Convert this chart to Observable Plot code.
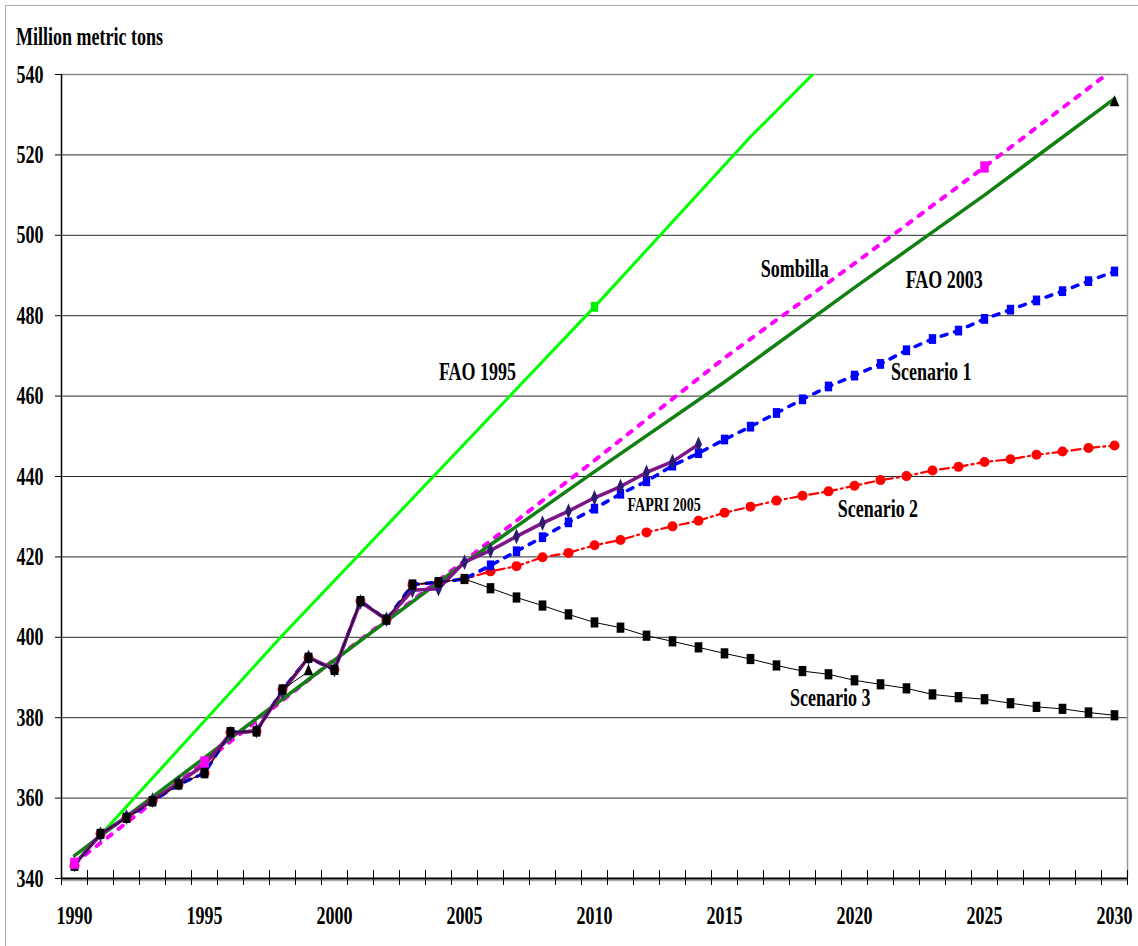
<!DOCTYPE html>
<html><head><meta charset="utf-8">
<script src="https://cdn.jsdelivr.net/npm/d3@7"></script>
<script src="https://cdn.jsdelivr.net/npm/@observablehq/plot@0.6"></script>
<style>
html,body{margin:0;padding:0;background:#fff;}
#wrap{position:relative;width:1138px;height:946px;overflow:hidden;font-family:'Liberation Serif','Times New Roman',serif;}
#frame{position:absolute;left:5px;top:5px;right:-10px;bottom:-10px;border-left:1px solid #aaa;border-top:1px solid #aaa;pointer-events:none;}
#title{position:absolute;left:16px;top:24px;font-size:18px;line-height:18px;font-weight:bold;transform:scaleY(1.4);transform-origin:0 0;white-space:nowrap;color:#000;}
#chart{position:absolute;left:0;top:56px;}
#chart svg text{font-weight:bold;}
</style></head>
<body>
<div id="wrap"><div id="title">Million metric tons</div><div id="chart"></div><div id="frame"></div></div>
<script>
// ---------------- data ----------------
const histYears  = [1990,1991,1992,1993,1994,1995,1996,1997,1998,1999,2000,2001,2002,2003,2004,2005];
const histValues = [343.2,351.1,355.1,359.2,363.4,366.2,376.4,376.6,387.0,394.9,391.9,409.0,404.4,413.1,413.7,414.5];

const projYears = [2006,2007,2008,2009,2010,2011,2012,2013,2014,2015,2016,2017,2018,2019,2020,2021,2022,2023,2024,2025,2026,2027,2028,2029,2030];
const scenario1 = [417.9,421.4,424.9,428.6,432.0,435.7,438.8,442.7,445.8,449.2,452.4,455.8,459.2,462.4,465.1,468.0,471.4,474.2,476.3,479.2,481.5,483.8,486.1,488.6,491.0];
const scenario2 = [416.4,417.7,419.9,421.0,422.9,424.2,426.1,427.6,429.0,431.0,432.5,434.0,435.2,436.3,437.7,439.1,440.1,441.5,442.4,443.6,444.3,445.4,446.2,447.1,447.7];
const scenario3 = [412.2,409.9,407.9,405.7,403.7,402.4,400.4,399.0,397.5,396.0,394.6,393.0,391.6,390.8,389.3,388.3,387.3,385.8,385.1,384.6,383.6,382.7,382.2,381.3,380.6];

const fapriYears  = [1990,1991,1992,1993,1994,1995,1996,1997,1998,1999,2000,2001,2002,2003,2004,2005,2006,2007,2008,2009,2010,2011,2012,2013,2014];
const fapriValues = [343.5,351.0,355.3,359.5,363.8,368.3,376.0,376.8,386.5,395.0,392.0,408.8,404.5,411.7,412.1,418.7,421.6,425.1,428.4,431.4,434.7,437.5,441.0,443.7,448.0];

const fao1995Years  = [1990,1998,2010,2016,2020];
const fao1995Values = [343.7,400.5,482.2,524.5,550.5];
const fao1995MarkYears  = [2010];
const fao1995MarkValues = [482.2];

const fao2003Years  = [1990,1999,2005,2010,2015,2020,2025,2027,2030];
const fao2003Values = [345.7,389.5,418.5,441.2,463.5,487.0,510.0,519.6,534.0];

const sombillaYears  = [1990,1995,2000,2005,2010,2015,2020,2025,2030];
const sombillaValues = [343.8,369.0,394.5,419.0,444.0,469.5,493.0,517.0,541.5];
const sombillaMarkYears  = [1990,1995,2025];
const sombillaMarkValues = [343.8,369.0,517.0];

const baseYears  = [1998,1999];
const baseValues = [387.0,391.5];
const triangleYears  = [1999,2030];
const triangleValues = [391.5,533.0];

const yTicks = [340,360,380,400,420,440,460,480,500,520,540];
const gridValues = [360,380,400,420,440,460,480,500,520];
const xLabelYears = [1990,1995,2000,2005,2010,2015,2020,2025,2030];
const xTickBounds = [1989.5,1990.5,1991.5,1992.5,1993.5,1994.5,1995.5,1996.5,1997.5,1998.5,1999.5,2000.5,2001.5,2002.5,2003.5,2004.5,2005.5,2006.5,2007.5,2008.5,2009.5,2010.5,2011.5,2012.5,2013.5,2014.5,2015.5,2016.5,2017.5,2018.5,2019.5,2020.5,2021.5,2022.5,2023.5,2024.5,2025.5,2026.5,2027.5,2028.5,2029.5,2030.5];

const labelTexts = ["FAO 1995","Sombilla","FAO 2003","Scenario 1","Scenario 2","Scenario 3"];
const labelYears = [2005.5,2017.7,2023.45,2022.95,2020.9,2019.07];
const labelVals  = [466.1,491.7,489.0,466.1,432.0,384.8];
const smallLabelTexts = ["FAPRI 2005"];
const smallLabelYears = [2012.68];
const smallLabelVals  = [433.0];

// ---------------- build tables ----------------
const pts = (xs, ys) => xs.map((x, i) => ({x, y: ys[i]}));
const s1 = pts(histYears.concat(projYears), histValues.concat(scenario1));
const s2 = pts(histYears.concat(projYears), histValues.concat(scenario2));
const s3 = pts(histYears.concat(projYears), histValues.concat(scenario3));
const fapri = pts(fapriYears, fapriValues);
const fao1995 = pts(fao1995Years, fao1995Values);
const fao1995Marks = pts(fao1995MarkYears, fao1995MarkValues);
const fao2003 = pts(fao2003Years, fao2003Values);
const sombilla = pts(sombillaYears, sombillaValues);
const sombillaMarks = pts(sombillaMarkYears, sombillaMarkValues);
const base = pts(baseYears, baseValues);
const tri = pts(triangleYears, triangleValues);
const labels = labelTexts.map((t, i) => ({t, x: labelYears[i], y: labelVals[i]}));
const smallLabels = smallLabelTexts.map((t, i) => ({t, x: smallLabelYears[i], y: smallLabelVals[i]}));

const P = {x: "x", y: "y", clip: true};

const chart = Plot.plot({
  width: 1138,
  height: 890,
  marginLeft: 61,
  marginRight: 11,
  marginTop: 18,
  marginBottom: 68,
  style: {fontFamily: "'Liberation Serif','Times New Roman',serif", background: "transparent", color: "#000"},
  x: {domain: [1989.5, 2030.5], label: null},
  y: {domain: [340, 540], label: null},
  marks: [
    Plot.ruleY(gridValues, {stroke: "#2a2a2a", strokeWidth: 1}),
    Plot.ruleY([540], {stroke: "#8c8c8c", strokeWidth: 1.5}),
    Plot.ruleX([2030.5], {stroke: "#9a9a9a", strokeWidth: 1.5}),

    Plot.line(fao1995, {...P, stroke: "#00ff00", strokeWidth: 3}),
    Plot.line(sombilla, {...P, stroke: "#ff00ff", strokeWidth: 4, strokeDasharray: "5,9"}),
    Plot.line(fao2003, {...P, stroke: "#128012", strokeWidth: 3.5}),

    Plot.line(s2, {...P, stroke: "#ff0000", strokeWidth: 2.2, strokeDasharray: "9,4,2,4"}),
    Plot.dot(s2, {...P, fill: "#ff0000", r: 5}),
    Plot.line(s1, {...P, stroke: "#0000ff", strokeWidth: 3.5, strokeDasharray: "6,8"}),
    Plot.dot(s1, {...P, symbol: "square", fill: "#0000ff", r: 4.6}),
    Plot.line(fapri, {...P, stroke: "#7d1487", strokeWidth: 3.5}),
    Plot.dot(fapri, {...P, symbol: "diamond", fill: "#2a1c6e", r: 4}),
    Plot.line(s3, {...P, stroke: "#000", strokeWidth: 1}),
    Plot.dot(s3, {...P, symbol: "square", fill: "#000", r: 4.8}),
    Plot.line(base, {...P, stroke: "#000", strokeWidth: 1}),
    Plot.dot(tri, {...P, symbol: "triangle", fill: "#000", r: 4}),
    Plot.dot(sombillaMarks, {...P, symbol: "square", fill: "#ff00ff", r: 5.3}),
    Plot.dot(fao1995Marks, {...P, symbol: "square", fill: "#00ee00", r: 4.6}),

    Plot.ruleX([1989.5], {stroke: "#000", strokeWidth: 1.5}),
    Plot.ruleY([340], {stroke: "#aaa", strokeWidth: 1.5, dy: 2}),
    Plot.ruleY([340], {stroke: "#000", strokeWidth: 2}),

    Plot.axisY({ticks: yTicks, tickSize: 6, tickPadding: 12, fontSize: 18, tickFormat: d => String(d), label: null}),
    Plot.axisX({ticks: xTickBounds, tickSize: 15, dy: -8, tickFormat: () => "", label: null}),
    Plot.axisX({ticks: xLabelYears, tickSize: 0, tickPadding: 37, lineAnchor: "middle", fontSize: 18, tickFormat: d => String(d), label: null}),

    Plot.text(labels, {x: "x", y: "y", text: "t", fontSize: 18, fill: "#000"}),
    Plot.text(smallLabels, {x: "x", y: "y", text: "t", fontSize: 14, fill: "#000"})
  ]
});

document.getElementById("chart").appendChild(chart);

// Condensed, tall serif lettering like the source chart: stretch glyphs vertically about their anchor
chart.querySelectorAll("text").forEach(t => {
  const tr = t.getAttribute("transform");
  if (tr) t.setAttribute("transform", tr + " scale(1,1.4)");
});
// The source's markers are slightly taller than wide as well
chart.querySelectorAll('g[aria-label="dot"] path, g[aria-label="dot"] circle').forEach(p => {
  const tr = p.getAttribute("transform");
  if (tr) p.setAttribute("transform", tr + " scale(0.9,1.2)");
});
</script>
</body></html>
